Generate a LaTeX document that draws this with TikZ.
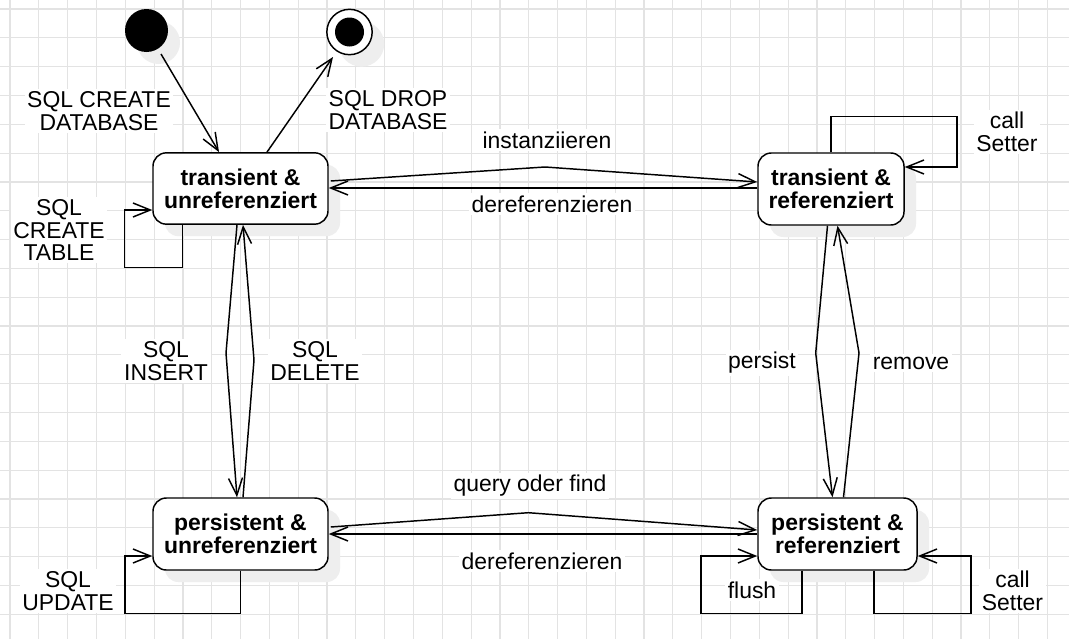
\documentclass[tikz,border=0pt]{standalone}
\usepackage{fontspec}
\setmainfont{Liberation Sans}
\usetikzlibrary{arrows.meta,calc,shadows}
\definecolor{gridc}{RGB}{227,227,227}
\definecolor{shadowc}{RGB}{238,238,238}
\begin{document}
\begin{tikzpicture}[x=0.75pt,y=-0.75pt,
  shad/.style={drop shadow={shadow xshift=9pt,shadow yshift=-9pt,fill=shadowc,opacity=1}},
  state/.style={draw,line width=1.1pt,rounded corners=10pt,fill=white,align=center,
    font=\fontsize{17.2}{17.3}\selectfont\bfseries,inner sep=0pt,shad},
  lbl/.style={fill=white,align=center,font=\fontsize{17.2}{17}\selectfont,inner sep=2pt},
  conn/.style={line width=1.1pt,-{Straight Barb[length=13pt,width=10.5pt]}}]
\useasboundingbox (0,0) rectangle (1069,639);
\fill[white] (0,0) rectangle (1069,639);
\foreach \i in {0,...,36} \draw[gridc,line width=0.9pt] ({10+28.82*\i},0) -- ({10+28.82*\i},639);
\foreach \i in {0,...,21} \draw[gridc,line width=0.9pt] (0,{9+28.82*\i}) -- (1069,{9+28.82*\i});
% labels
\node[lbl] (l1) at (99,111) {SQL CREATE\\DATABASE};
\node[lbl] (l2) at (388,110) {SQL DROP\\DATABASE};
\node[lbl] (l3) at (547,140) {instanziieren};
\node[lbl] (l4) at (552,204) {dereferenzieren};
\node[lbl] (l5) at (59,230) {SQL\\CREATE\\TABLE};
\node[lbl] (l6) at (1007,132) {call\\Setter};
\node[lbl] (l7) at (166,361) {SQL\\INSERT};
\node[lbl] (l8) at (315,361) {SQL\\DELETE};
\node[lbl] (l9) at (762,363) {persist};
\node[lbl] (l10) at (911,363) {remove};
\node[lbl] (l11) at (530,486) {query oder find};
\node[lbl] (l12) at (542,561) {dereferenzieren};
\node[lbl] (l13) at (68,591) {SQL\\UPDATE};
\node[lbl] (l14) at (752,590) {flush};
\node[lbl] (l15) at (1012.5,591) {call\\Setter};
% states
\node[state,minimum width=131.25pt,minimum height=53.5pt] (TU) at (240.5,188.5) {transient \&\\unreferenziert};
\node[state,minimum width=109.5pt,minimum height=54pt] (TR) at (831,189) {transient \&\\referenziert};
\node[state,minimum width=131.25pt,minimum height=54pt] (PU) at (240.5,534) {persistent \&\\unreferenziert};
\node[state,minimum width=119.25pt,minimum height=54pt] (PR) at (837.5,534) {persistent \&\\referenziert};
\node[circle,fill=black,minimum size=32.25pt,inner sep=0pt,shad] (init) at (146.5,30.5) {};
\node[circle,draw,line width=1.1pt,fill=white,minimum size=34pt,inner sep=0pt,shad] (fin) at (349.5,32) {};
\node[circle,fill=black,minimum size=21.75pt,inner sep=0pt] (finin) at (fin.center) {};
% waypoints
\coordinate (w1) at (545,167);
\coordinate (w2) at (226,353);
\coordinate (w3) at (254,360);
\coordinate (w4) at (815.7,353);
\coordinate (w5) at (859,353);
\coordinate (w6) at (528.3,512.7);
% connectors
\draw[conn] ($(init.center)+(14.5,23.5)$) -- ($(TU.north)+(-21.5,0)$);
\draw[conn] ($(TU.north)+(26.5,0)$) -- ($(fin.center)+(-16.5,25)$);
\draw[conn] ($(TU.east)+(2,-7.5)$) -- (w1) -- ($(TR.west)+(0,-7)$);
\draw[conn] ($(TR.west)+(0,-1)$) -- ($(TU.east)+(0,-0.5)$);
\draw[conn] ($(TU.south)+(-3.5,0)$) -- (w2) -- ($(PU.north)+(-3.5,0)$);
\draw[conn] ($(PU.north)+(2.5,0)$) -- (w3) -- ($(TU.south)+(2.5,0)$);
\draw[conn] ($(TR.south)+(-3.5,0)$) -- (w4) -- ($(PR.north)+(-5,0)$);
\draw[conn] ($(PR.north)+(6,0)$) -- (w5) -- ($(TR.south)+(6.5,0)$);
\draw[conn] ($(PU.east)+(2,-7)$) -- (w6) -- ($(PR.west)+(0,-4)$);
\draw[conn] (PR.west) -- (PU.east);
% self loops
\draw[conn] ($(TU.south west)+(30,0)$) -- ++(0,42.5) -- ++(-58,0) |- ($(TU.west)+(0,21.5)$);
\draw[conn] (TR.north) -- ++(0,-36) -- ++(126,0) |- ($(TR.east)+(0,-22)$);
\draw[conn] (PU.south) -- ++(0,43) -- ++(-115.5,0) |- ($(PU.west)+(0,22)$);
\draw[conn] ($(PR.south)+(-35.5,0)$) -- ++(0,43) -- ++(-101,0) |- ($(PR.west)+(0,22)$);
\draw[conn] ($(PR.south)+(36.5,0)$) -- ++(0,43) -- ++(97,0) |- ($(PR.east)+(0,22)$);
\end{tikzpicture}
\end{document}
